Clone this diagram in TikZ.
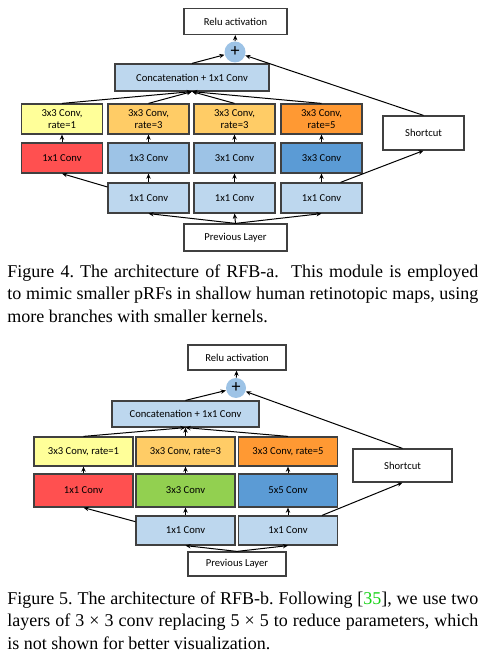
\documentclass[tikz,border=0pt]{standalone}
\usepackage{fontspec}
\setmainfont{Liberation Serif}
\newfontfamily\boxfont{Carlito}
\usepackage{tikz}
\usetikzlibrary{arrows.meta,positioning,calc}

\definecolor{rfbyellow}{RGB}{255,255,153}
\definecolor{rfbpeach}{RGB}{255,204,102}
\definecolor{rfborange}{RGB}{255,153,51}
\definecolor{rfbred}{RGB}{255,80,80}
\definecolor{rfbblue}{RGB}{157,195,230}
\definecolor{rfbdeep}{RGB}{91,155,213}
\definecolor{rfbpale}{RGB}{189,215,238}
\definecolor{rfbgreen}{RGB}{146,208,80}
\definecolor{refgreen}{RGB}{20,210,20}

\begin{document}
\frenchspacing
\begin{tikzpicture}[
		x=0.5pt, y=-0.5pt, % one unit = one pixel of the figure
		blk/.style={draw=black!75, line width=0.6pt, inner sep=0pt, align=center,
			font=\boxfont\fontsize{5.3}{6.3}\selectfont},
		blkA/.style={blk, minimum width=40.5pt, minimum height=15pt},
		blkB/.style={blk, minimum width=49.5pt, minimum height=14.5pt},
		addnode/.style={circle, fill=rfbblue, minimum size=10.5pt, inner sep=0pt,
			font=\boxfont\fontsize{9}{9}\selectfont},
		conn/.style={-{Stealth[length=2.6pt,width=2.2pt]}, line width=0.5pt},
		figcap/.style={anchor=north west, inner sep=0pt, text width=235.5pt,
			align=justify, font=\fontsize{9}{11.2}\selectfont}]
	\useasboundingbox (0,0) rectangle (490,656);

	% RFB-a
	\path 	(235.5,21.5) node (reluA)   [blk, minimum width=51.5pt, minimum height=13pt] {Relu activation}
	        (235,52)     node (plusA)   [addnode] {+}
	        (192,77.5)   node (catA)    [blk, fill=rfbpale, minimum width=77pt, minimum height=13.5pt] {Concatenation + 1x1 Conv}
	        (62,119)     node (a11)     [blkA, fill=rfbyellow] {3x3 Conv,\\rate=1}
	        (148.5,119)  node (a12)     [blkA, fill=rfbpeach]  {3x3 Conv,\\rate=3}
	        (234.5,119)  node (a13)     [blkA, fill=rfbpeach]  {3x3 Conv,\\rate=3}
	        (321.5,119)  node (a14)     [blkA, fill=rfborange] {3x3 Conv,\\rate=5}
	        (423.5,133)  node (shortA)  [blk, minimum width=40.5pt, minimum height=17pt] {Shortcut}
	        (62,158)     node (a21)     [blkA, fill=rfbred]  {1x1 Conv}
	        (148.5,158)  node (a22)     [blkA, fill=rfbblue] {1x3 Conv}
	        (234.5,158)  node (a23)     [blkA, fill=rfbblue] {3x1 Conv}
	        (321.5,158)  node (a24)     [blkA, fill=rfbdeep] {3x3 Conv}
	        (148.5,198)  node (a31)     [blkA, fill=rfbpale] {1x1 Conv}
	        (234.5,198)  node (a32)     [blkA, fill=rfbpale] {1x1 Conv}
	        (321.5,198)  node (a33)     [blkA, fill=rfbpale] {1x1 Conv}
	        (235.5,237.5) node (prevA)  [blk, minimum width=51.5pt, minimum height=13.5pt] {Previous Layer};
	\draw [conn] (prevA.north) -- (a31.south);
	\draw [conn] (prevA.north) -- (a32.south);
	\draw [conn] (prevA.north) -- (a33.south);
	\draw [conn] (a31.165) -- (a21.south);
	\draw [conn] (a31) -- (a22);
	\draw [conn] (a32) -- (a23);
	\draw [conn] (a33) -- (a24);
	\draw [conn] ($(a33.north)+(19,0)$) -- (shortA.south);
	\draw [conn] (a21) -- (a11);
	\draw [conn] (a22) -- (a12);
	\draw [conn] (a23) -- (a13);
	\draw [conn] (a24) -- (a14);
	\foreach \n in {a11,a12,a13,a14}
		\draw [conn] (\n.north) -- (catA.south);
	\draw [conn] (catA.north) -- (plusA);
	\draw [conn] (shortA.north) -- (plusA);
	\draw [conn] (plusA) -- (reluA);

	\node (capA) [figcap] at (7,264.5) {Figure 4. The architecture of RFB-a.\ \ This module is employed\linebreak
		to mimic smaller pRFs in shallow human retinotopic maps, using\linebreak
		more branches with smaller kernels.};

	% RFB-b
	\path 	(237,357.5)  node (reluB)   [blk, minimum width=49pt, minimum height=12.5pt] {Relu activation}
	        (236,388)    node (plusB)   [addnode, minimum size=10pt] {+}
	        (185.5,414)  node (catB)    [blk, fill=rfbpale, minimum width=73.5pt, minimum height=13pt] {Concatenation + 1x1 Conv}
	        (83.5,451.5) node (b11)     [blkB, fill=rfbyellow] {3x3 Conv, rate=1}
	        (185.5,451.5) node (b12)    [blkB, fill=rfbpeach]  {3x3 Conv, rate=3}
	        (288,451.5)  node (b13)     [blkB, fill=rfborange] {3x3 Conv, rate=5}
	        (402.5,465.5) node (shortB) [blk, minimum width=49.5pt, minimum height=16.5pt] {Shortcut}
	        (83.5,490.5) node (b21)     [blkB, minimum height=16.5pt, fill=rfbred]   {1x1 Conv}
	        (185.5,490.5) node (b22)    [blkB, minimum height=16.5pt, fill=rfbgreen] {3x3 Conv}
	        (288,490.5)  node (b23)     [blkB, minimum height=16.5pt, fill=rfbdeep]  {5x5 Conv}
	        (185.5,530.5) node (b31)    [blkB, fill=rfbpale] {1x1 Conv}
	        (288,530.5)  node (b32)     [blkB, fill=rfbpale] {1x1 Conv}
	        (237,564)    node (prevB)   [blk, minimum width=49pt, minimum height=12pt] {Previous Layer};
	\draw [conn] (prevB.north) -- (b31.south);
	\draw [conn] (prevB.north) -- (b32.south);
	\draw [conn] (b31.170) -- (b21.south);
	\draw [conn] (b31) -- (b22);
	\draw [conn] (b32) -- (b23);
	\draw [conn] ($(b32.north)+(34,0)$) -- (shortB.south);
	\draw [conn] (b21) -- (b11);
	\draw [conn] (b22) -- (b12);
	\draw [conn] (b23) -- (b13);
	\foreach \n in {b11,b12,b13}
		\draw [conn] (\n.north) -- (catB.south);
	\draw [conn] (catB.north) -- (plusB);
	\draw [conn] (shortB.north) -- (plusB);
	\draw [conn] (plusB) -- (reluB);

	\node (capB) [figcap] at (7,591.5) {Figure 5. The architecture of RFB-b. Following [{\color{refgreen}35}], we use two\linebreak
		layers of 3 × 3 conv replacing 5 × 5 to reduce parameters, which\linebreak
		is not shown for better visualization.};
\end{tikzpicture}
\end{document}
